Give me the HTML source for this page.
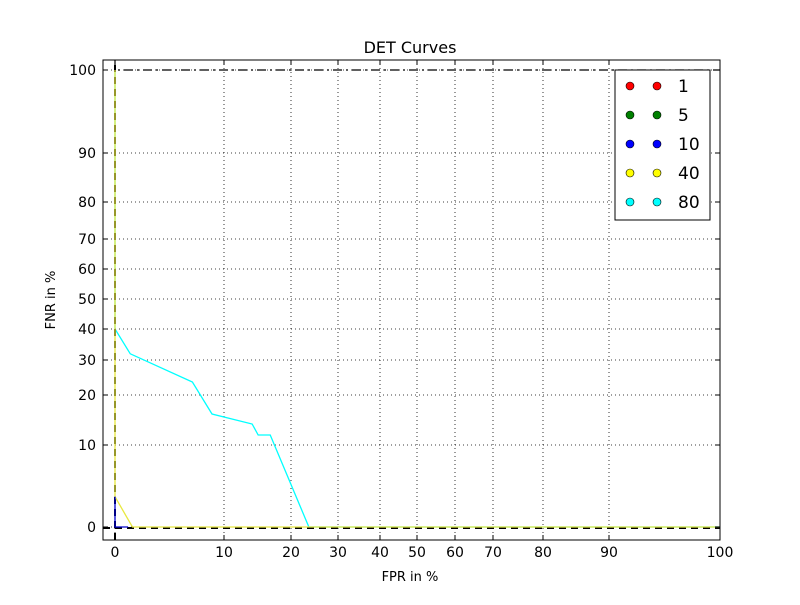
<!DOCTYPE html>
<html><head><meta charset="utf-8"><style>
body{margin:0;background:#fff}
text{font-family:"DejaVu Sans","Liberation Sans",sans-serif}
</style></head><body>
<svg id="c" width="800" height="600" xmlns="http://www.w3.org/2000/svg">
<rect width="800" height="600" fill="#fff"/>
<g id="grid"></g>
<g id="series"></g>
<rect x="103" y="60" width="617" height="480" fill="none" stroke="#000" stroke-width="1"/>
<g id="ticks"></g>
<text x="410" y="53" font-size="16" text-anchor="middle">DET Curves</text>
<text x="410" y="581" font-size="13" text-anchor="middle">FPR in %</text>
<text x="55" y="300" font-size="13" text-anchor="middle" transform="rotate(-90 55 300)">FNR in %</text>
<g id="legend"></g>
</svg>
<script>
const xTicks=[0,10,20,30,40,50,60,70,80,90,100];
const yTicks=[0,10,20,30,40,50,60,70,80,90,100];
const seriesNames=["1","5","10","40","80"];
const seriesColors=["#ff0000","#008000","#0000ff","#ffff00","#00ffff"];
const blueFpr=[0,0,1.2];
const blueFnr=[3.7,0,0];
const yellowFpr=[0,0,1.6,100];
const yellowFnr=[100,3.7,0,0];
const cyanFpr=[0,0,1.4,7.1,8.9,14.2,15.1,16.9,23.8,100];
const cyanFnr=[100,40,32,23.7,16.2,14.2,12,12,0,0];
// axis functions: piecewise over nonlinear (DET) tick positions
const xPix=[115,224,291,338,380,417,455,493,543,609,720];
const yPix=[527,445,395,360,329,299,269,239,202,153,70];
function interp(v,ticks,pix){
  if(v<=ticks[0])return pix[0];
  for(let i=1;i<ticks.length;i++){if(v<=ticks[i]){const t=(v-ticks[i-1])/(ticks[i]-ticks[i-1]);return pix[i-1]+t*(pix[i]-pix[i-1]);}}
  return pix[pix.length-1];
}
const X=v=>interp(v,xTicks,xPix), Y=v=>interp(v,yTicks,yPix);
const NS="http://www.w3.org/2000/svg";
function mk(tag,attrs,parent){const e=document.createElementNS(NS,tag);for(const k in attrs)e.setAttribute(k,attrs[k]);parent.appendChild(e);return e;}
const grid=document.getElementById('grid'),ticks=document.getElementById('ticks');
xTicks.forEach(v=>{const x=X(v);
  const l=mk('line',{x1:x,x2:x,y1:60,y2:540,stroke:'#000','stroke-dasharray':'1,3','stroke-width':0.8},grid);
  
  
  mk('line',{x1:x,x2:x,y1:540,y2:535,stroke:'#000'},ticks);
  mk('line',{x1:x,x2:x,y1:60,y2:65,stroke:'#000'},ticks);
  const t=mk('text',{x:x,y:557,'font-size':14,'text-anchor':'middle'},ticks);t.textContent=v;
  
  
});
yTicks.forEach(v=>{const y=Y(v);
  const l=mk('line',{x1:103,x2:720,y1:y,y2:y,stroke:'#000','stroke-dasharray':'1,3','stroke-width':0.8},grid);
  
  
  mk('line',{x1:103,x2:108,y1:y,y2:y,stroke:'#000'},ticks);
  mk('line',{x1:715,x2:720,y1:y,y2:y,stroke:'#000'},ticks);
  const t=mk('text',{x:96,y:y+5,'font-size':14,'text-anchor':'end'},ticks);t.textContent=v;
  
  
});
const sg=document.getElementById('series');
function drawLine(fx,fy,col,name){
  const p=mk('polyline',{points:fx.map((v,i)=>X(v)+','+Y(fy[i])).join(' '),fill:'none',stroke:col,'stroke-width':1.3},sg);
  
  
}
drawLine(cyanFpr,cyanFnr,'#00ffff','series-80-line');
// reference dash-dot boundary lines
let r=mk('polyline',{points:`${X(0)},60 ${X(0)},${Y(100)} 720,${Y(100)}`,fill:'none',stroke:'#000','stroke-width':1.2,'stroke-dasharray':'9,4,2,4'},sg);


let r2=mk('line',{x1:X(0),y1:540,x2:X(0),y2:60,stroke:'#000','stroke-width':2,'stroke-dasharray':'7,5'},sg);


let r3=mk('line',{x1:103,y1:Y(0)+1,x2:720,y2:Y(0)+1,stroke:'#000','stroke-width':2,'stroke-dasharray':'7,5'},sg);


drawLine(yellowFpr,yellowFnr,'#e8e840','series-40-line');
drawLine(blueFpr,blueFnr,'#0000cc','series-10-line');
const lg=document.getElementById('legend');
const box=mk('rect',{x:615,y:70,width:95,height:150,fill:'#fff',stroke:'#000'},lg);


seriesNames.forEach((n,i)=>{const y=86+i*29;
  const g=mk('g',{},lg);
  
  
  mk('circle',{cx:630,cy:y,r:4,fill:seriesColors[i],stroke:'#000','stroke-width':0.6},g);
  mk('circle',{cx:657,cy:y,r:4,fill:seriesColors[i],stroke:'#000','stroke-width':0.6},g);
  const t=mk('text',{x:678,y:y+6,'font-size':17},g);t.textContent=n;
});
</script>
</body></html>
